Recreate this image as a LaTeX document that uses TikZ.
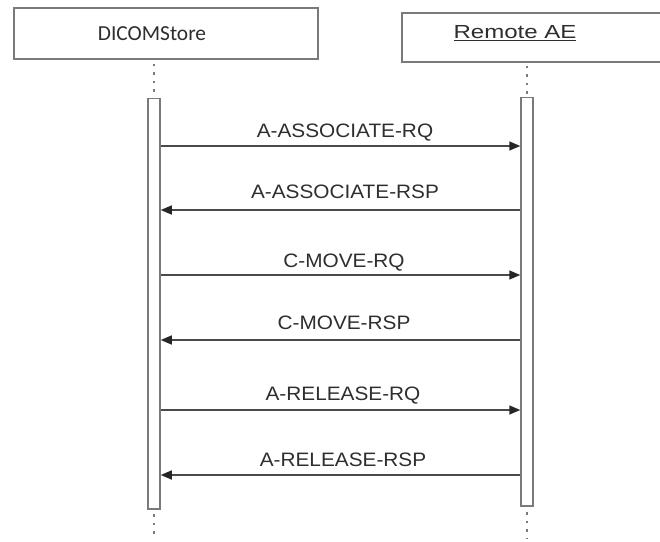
\documentclass[tikz,border=0pt]{standalone}
\usepackage{fontspec}
\setmainfont{Liberation Sans}
\newfontfamily\calfont{Carlito}
\usetikzlibrary{arrows.meta}
\definecolor{boxline}{HTML}{7A7A7A}
\definecolor{txt}{HTML}{2E2E2E}
\definecolor{msgline}{HTML}{4A4A4A}
\tikzset{
  headbox/.style={draw=boxline, line width=1.8pt, fill=white, inner sep=0pt},
  actbar/.style={draw=boxline, line width=1.5pt, fill=white, inner sep=0pt, minimum width=12bp},
  lifedots/.style={draw=boxline, line width=2.2pt, dash pattern=on 2.5bp off 6bp},
  msg/.style={draw=msgline, line width=1.5pt, -{Triangle[length=11bp,width=9bp,fill=black!85,color=black!85]}},
  msglabel/.style={text=txt, font=\fontsize{19.5}{22}\selectfont, inner sep=0pt, anchor=base},
}
\begin{document}
\begin{tikzpicture}[x=1bp,y=-1bp]
\useasboundingbox (0,0) rectangle (660,542);
% header boxes
\path[headbox] (14,8) rectangle (318,59);
\node[text=txt, font=\calfont\fontsize{21.5}{24}\selectfont, inner sep=0pt] (dicom) at (152,34) {DICOMStore};
\path[headbox] (402,13) rectangle (672,62);
\node[text=txt, font=\fontsize{19}{22}\selectfont, inner sep=0pt] (remote) at (515,33) {\scalebox{1.27}[1]{\underline{Remote AE}}};
% lifelines
\draw[lifedots] (154,64) -- (154,97);
\draw[lifedots] (527,66) -- (527,97);
\draw[lifedots] (154,514) -- (154,538);
\draw[lifedots] (527,512) -- (527,538);
% activation bars
\node[actbar, minimum height=410bp, anchor=north] (lbar) at (154,98) {};
\node[actbar, minimum height=408bp, anchor=north] (rbar) at (527,97) {};
% messages
\coordinate (l1) at (lbar.east |- 0,146);
\coordinate (r1) at (rbar.west |- 0,146);
\draw[msg] (l1) -- (r1);
\node[msglabel] (m1) at (345,138) {\scalebox{1.07}[1]{A-ASSOCIATE-RQ}};
\coordinate (l2) at (lbar.east |- 0,210);
\coordinate (r2) at (rbar.west |- 0,210);
\draw[msg] (r2) -- (l2);
\node[msglabel] (m2) at (345,199) {\scalebox{1.07}[1]{A-ASSOCIATE-RSP}};
\coordinate (l3) at (lbar.east |- 0,275);
\coordinate (r3) at (rbar.west |- 0,275);
\draw[msg] (l3) -- (r3);
\node[msglabel] (m3) at (344,267) {\scalebox{1.07}[1]{C-MOVE-RQ}};
\coordinate (l4) at (lbar.east |- 0,340);
\coordinate (r4) at (rbar.west |- 0,340);
\draw[msg] (r4) -- (l4);
\node[msglabel] (m4) at (344,329) {\scalebox{1.07}[1]{C-MOVE-RSP}};
\coordinate (l5) at (lbar.east |- 0,410);
\coordinate (r5) at (rbar.west |- 0,410);
\draw[msg] (l5) -- (r5);
\node[msglabel] (m5) at (343,400) {\scalebox{1.07}[1]{A-RELEASE-RQ}};
\coordinate (l6) at (lbar.east |- 0,475);
\coordinate (r6) at (rbar.west |- 0,475);
\draw[msg] (r6) -- (l6);
\node[msglabel] (m6) at (343,466) {\scalebox{1.07}[1]{A-RELEASE-RSP}};
\end{tikzpicture}
\end{document}
